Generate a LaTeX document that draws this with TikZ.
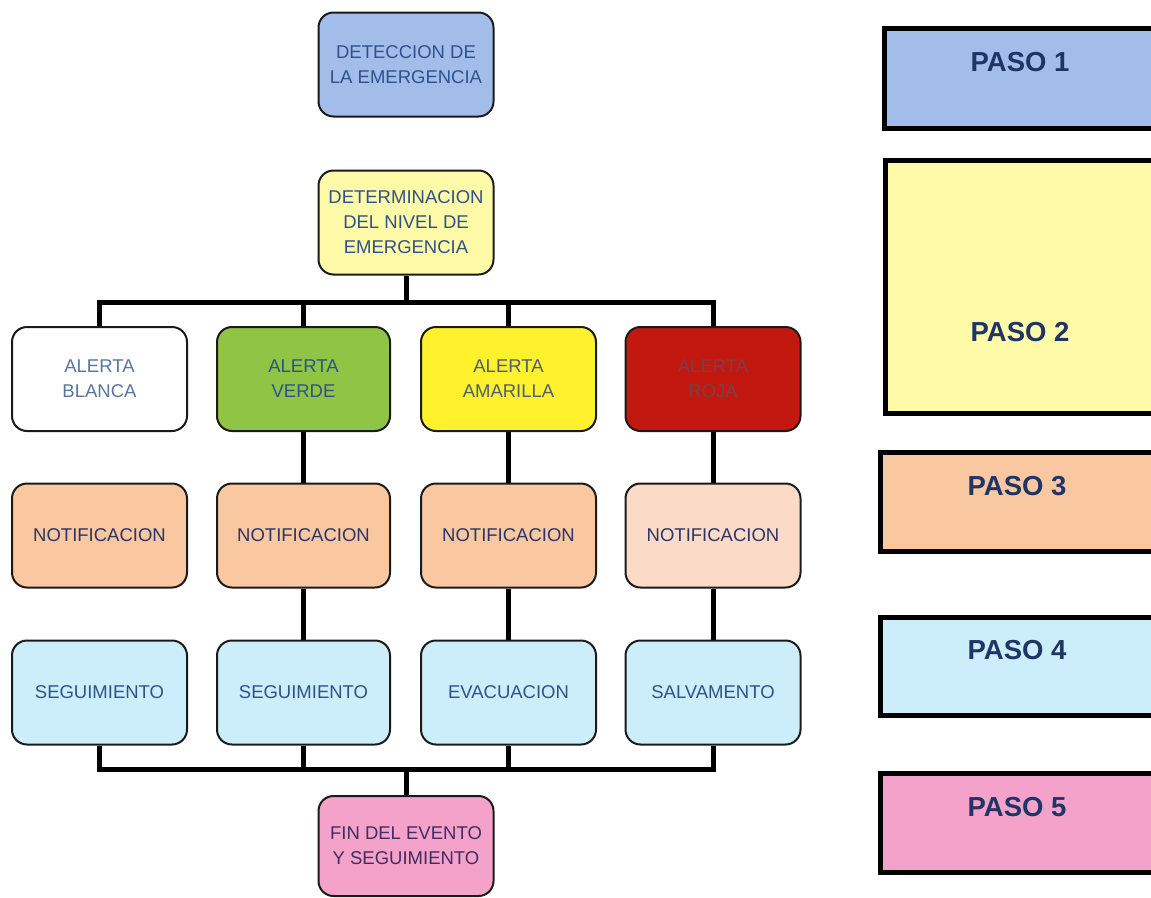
\documentclass[tikz,border=0pt]{standalone}
\usepackage{fontspec}
\setmainfont{Liberation Sans}
\usetikzlibrary{backgrounds}
\definecolor{bordc}{HTML}{1A1A1A}
\definecolor{txtblue}{HTML}{2F5289}
\definecolor{txtnavy}{HTML}{2B3568}
\definecolor{pasotxt}{HTML}{1E3566}
\definecolor{rojatxt}{HTML}{7A3F4A}
\definecolor{amartxt}{HTML}{4F5E70}
\definecolor{cblue}{HTML}{A3BDEA}
\definecolor{cyellow}{HTML}{FFFAA8}
\definecolor{cgreen}{HTML}{8FC444}
\definecolor{camar}{HTML}{FFF22C}
\definecolor{crojo}{HTML}{C3180F}
\definecolor{cpeach}{HTML}{F9C8A0}
\definecolor{cpeachl}{HTML}{FBDBC8}
\definecolor{ccyan}{HTML}{CCEEFA}
\definecolor{cpink}{HTML}{F4A2CA}
\tikzset{
  box/.style={draw=bordc, line width=2pt, rounded corners=15pt, minimum width=175pt,
    minimum height=104pt, align=center, inner sep=2pt,
    font=\fontsize{18.5pt}{25pt}\selectfont, text=txtblue},
  conn/.style={line width=5pt, draw=black, line join=miter},
  pasobox/.style={draw=black, line width=5pt, minimum width=290pt, anchor=north west, inner sep=0pt},
  pasolab/.style={font=\fontsize{27.5pt}{32pt}\selectfont\bfseries, text=pasotxt}
}
\begin{document}
\begin{tikzpicture}[x=1pt,y=-1pt]
\useasboundingbox (0,0) rectangle (1151,897);
\clip (0,0) rectangle (1151,897);
% main chart
\node[box, fill=cblue] (det) at (406,64.5) {DETECCION DE\\LA EMERGENCIA};
\node[box, fill=cyellow] (niv) at (406,222.5) {DETERMINACION\\DEL NIVEL DE\\EMERGENCIA};
\node[box, fill=white, text=txtblue!80] (ab) at (99.5,379) {ALERTA\\BLANCA};
\node[box, fill=cgreen, minimum width=173pt] (av) at (303.5,379) {ALERTA\\VERDE};
\node[box, fill=camar, text=amartxt] (am) at (508.5,379) {ALERTA\\AMARILLA};
\node[box, fill=crojo, text=rojatxt] (ar) at (713,379) {ALERTA\\ROJA};
\node[box, fill=cpeach, text=txtnavy] (nb) at (99.5,535.5) {NOTIFICACION};
\node[box, fill=cpeach, text=txtnavy, minimum width=173pt] (nv) at (303.5,535.5) {NOTIFICACION};
\node[box, fill=cpeach, text=txtnavy] (na) at (508.5,535.5) {NOTIFICACION};
\node[box, fill=cpeachl, text=txtnavy] (nr) at (713,535.5) {NOTIFICACION};
\node[box, fill=ccyan] (sb) at (99.5,692.5) {SEGUIMIENTO};
\node[box, fill=ccyan, minimum width=173pt] (sv) at (303.5,692.5) {SEGUIMIENTO};
\node[box, fill=ccyan] (se) at (508.5,692.5) {EVACUACION};
\node[box, fill=ccyan] (ss) at (713,692.5) {SALVAMENTO};
\node[box, fill=cpink, text=txtnavy!85!purple, minimum height=100pt] (fin) at (406,846) {FIN DEL EVENTO\\Y SEGUIMIENTO};
\coordinate (busT) at (406,302);
\coordinate (busB) at (406,769);
\begin{scope}[on background layer]
\draw[conn] (niv.south) -- (busT);
\draw[conn] (ab.north) |- (busT) -| (ar.north);
\draw[conn] (av.north) -- (av.north |- busT);
\draw[conn] (am.north) -- (am.north |- busT);
\draw[conn] (av.south) -- (nv.north);
\draw[conn] (am.south) -- (na.north);
\draw[conn] (ar.south) -- (nr.north);
\draw[conn] (nv.south) -- (sv.north);
\draw[conn] (na.south) -- (se.north);
\draw[conn] (nr.south) -- (ss.north);
\draw[conn] (sb.south) |- (busB) -| (ss.south);
\draw[conn] (sv.south) -- (sv.south |- busB);
\draw[conn] (se.south) -- (se.south |- busB);
\draw[conn] (busB) -- (fin.north);
\end{scope}
% legend
\node[pasobox, fill=cblue, minimum height=100pt] (p1) at (882,26) {};
\node[pasolab] (l1) at (1020,62) {PASO 1};
\node[pasobox, fill=cyellow, minimum height=253pt] (p2) at (883,158) {};
\node[pasolab] (l2) at (1020,332) {PASO 2};
\node[pasobox, fill=cpeach, minimum height=99pt] (p3) at (878,450) {};
\node[pasolab] (l3) at (1017,486) {PASO 3};
\node[pasobox, fill=ccyan, minimum height=98pt] (p4) at (878,615) {};
\node[pasolab] (l4) at (1017,650) {PASO 4};
\node[pasobox, fill=cpink, minimum height=99pt] (p5) at (878,771) {};
\node[pasolab] (l5) at (1017,807) {PASO 5};
\end{tikzpicture}
\end{document}
